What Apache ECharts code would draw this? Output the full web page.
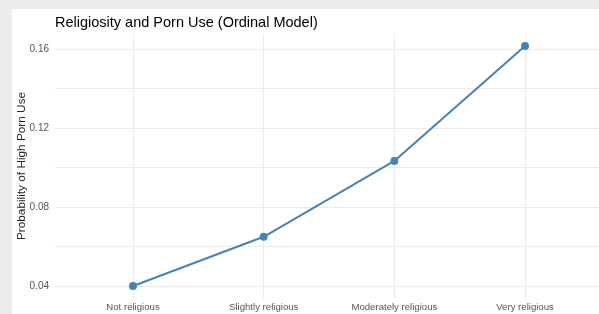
<!DOCTYPE html>
<html>
<head>
<meta charset="utf-8">
<script src="https://cdn.jsdelivr.net/npm/echarts@6/dist/echarts.min.js"></script>
<style>
  html, body { margin: 0; padding: 0; background: #ebebeb; }
  .panel { position: absolute; left: 12px; top: 9px; right: 0; bottom: 0; background: #fff; }
  #chart { position: absolute; left: 0; top: 0; width: 599px; height: 314px; }
</style>
</head>
<body>
<div class="panel"></div>
<div id="chart"></div>
<script>
// religiosity levels and predicted probability of high porn use
const categories = ['Not religious', 'Slightly religious', 'Moderately religious', 'Very religious'];
const probs = [0.040, 0.0649, 0.1033, 0.1615];
const yLabels = [0.04, 0.08, 0.12, 0.16];
const yGrid = [0.04, 0.06, 0.08, 0.10, 0.12, 0.14, 0.16];

const font = 'Liberation Sans, Arial, sans-serif';
const myChart = echarts.init(document.getElementById('chart'));

const option = {
  backgroundColor: 'transparent',
  animation: false,
  title: {
    text: 'Religiosity and Porn Use (Ordinal Model)',
    left: 50,
    top: 10,
    textStyle: { fontFamily: font, fontSize: 14.5, fontWeight: 'normal', color: '#000' }
  },
  grid: { left: 55, right: 0, top: 34, bottom: 16 },
  xAxis: {
    type: 'value',
    min: -0.597,
    max: 3.566,
    axisLine: { show: false },
    axisTick: { show: false, customValues: [0, 1, 2, 3] },
    axisLabel: {
      customValues: [0, 1, 2, 3],
      formatter: v => categories[Math.round(v)],
      fontFamily: font,
      fontSize: 9.6,
      color: '#555',
      margin: 4
    },
    splitLine: { show: true, lineStyle: { color: '#ebebeb', width: 1 } }
  },
  yAxis: {
    type: 'value',
    min: 0.0339,
    max: 0.1676,
    name: 'Probability of High Porn Use',
    nameLocation: 'middle',
    nameGap: 27,
    nameMoveOverlap: false,
    nameTextStyle: { fontFamily: font, fontSize: 11.8, color: '#222' },
    axisLine: { show: false },
    axisTick: { show: false, customValues: yGrid },
    axisLabel: {
      customValues: yLabels,
      formatter: v => v.toFixed(2),
      fontFamily: font,
      fontSize: 10,
      color: '#555',
      margin: 6
    },
    splitLine: { show: true, lineStyle: { color: '#ebebeb', width: 1 } }
  },
  series: [
    {
      type: 'line',
      data: categories.map((c, i) => [i, probs[i]]),
      symbol: 'circle',
      symbolSize: 8,
      clip: false,
      lineStyle: { color: '#4682b4', width: 2 },
      itemStyle: { color: '#4682b4' }
    }
  ]
};
myChart.setOption(option);
</script>
</body>
</html>
